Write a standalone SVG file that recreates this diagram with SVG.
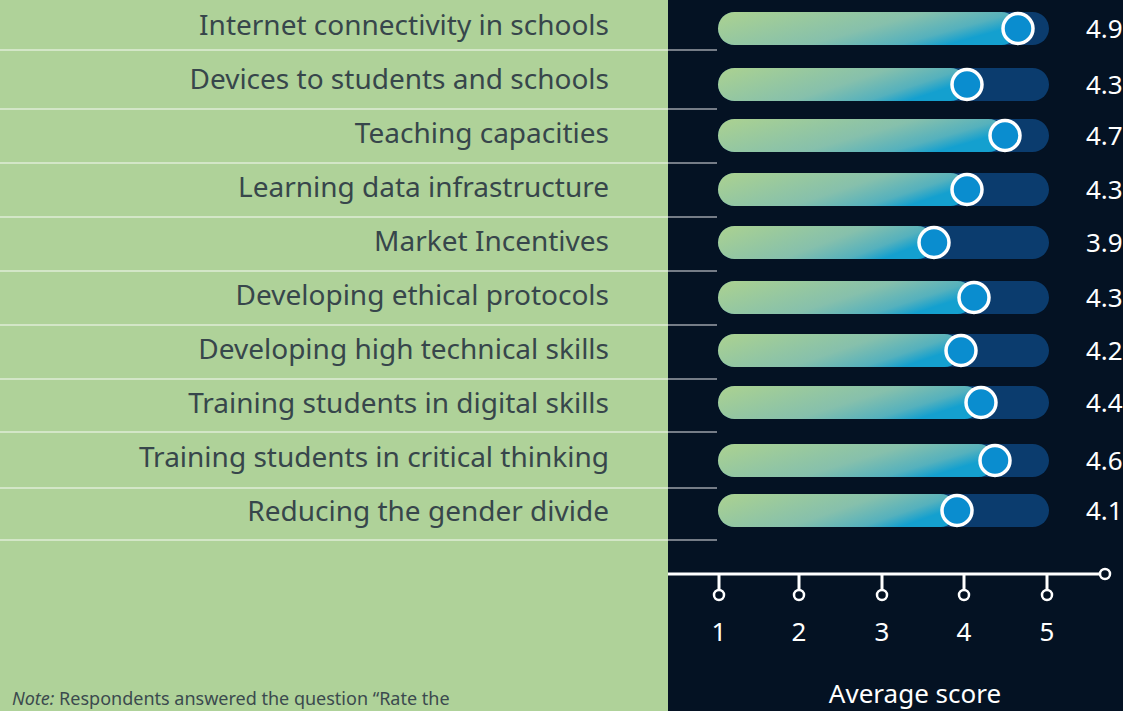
<svg xmlns="http://www.w3.org/2000/svg" width="1123" height="711" viewBox="0 0 1123 711">
<defs>
<linearGradient id="fillGrad" x1="0" y1="0" x2="1" y2="0.4">
<stop offset="0" stop-color="#acd290"/>
<stop offset="0.6" stop-color="#86c0ac"/>
<stop offset="0.86" stop-color="#55b1bd"/>
<stop offset="1" stop-color="#14a0cf"/>
</linearGradient>
<style>
.lbl{font-family:"Noto Sans","Liberation Sans",sans-serif;font-size:28px;fill:#37464b;text-anchor:end}
.val{font-family:"Noto Sans","Liberation Sans",sans-serif;font-size:26px;fill:#ffffff}
.ax{font-family:"Noto Sans","Liberation Sans",sans-serif;font-size:26px;fill:#ffffff;text-anchor:middle}
.sep{stroke:#ffffff;stroke-opacity:0.45;stroke-width:2}
.track{fill:#0b3c6e}
.fill{fill:url(#fillGrad)}
.knob{fill:#0a8dcf;stroke:#ffffff;stroke-width:3.5}
.axl{stroke:#ffffff;stroke-width:3;fill:none}
.tick{stroke:#ffffff;stroke-width:2.5;fill:#041223}
</style>
</defs>
<rect x="0" y="0" width="668" height="711" fill="#afd299"/>
<rect x="668" y="0" width="455" height="711" fill="#041223"/>

<g id="connectors">
<line class="sep" x1="0" y1="50" x2="717" y2="50"/>
<line class="sep" x1="0" y1="109" x2="717" y2="109"/>
<line class="sep" x1="0" y1="163" x2="717" y2="163"/>
<line class="sep" x1="0" y1="217" x2="717" y2="217"/>
<line class="sep" x1="0" y1="271" x2="717" y2="271"/>
<line class="sep" x1="0" y1="325" x2="717" y2="325"/>
<line class="sep" x1="0" y1="379" x2="717" y2="379"/>
<line class="sep" x1="0" y1="432" x2="717" y2="432"/>
<line class="sep" x1="0" y1="488" x2="717" y2="488"/>
<line class="sep" x1="0" y1="540" x2="717" y2="540"/>
</g>

<g id="row1">
<text class="lbl" x="609" y="35">Internet connectivity in schools</text>
<rect class="track" x="718" y="12" width="331" height="33" rx="16.5"/>
<rect class="fill" x="718" y="12" width="300" height="33" rx="16.5"/>
<circle class="knob" cx="1018" cy="28.5" r="15"/>
<text class="val" x="1086" y="38">4.9</text>
</g>
<g id="row2">
<text class="lbl" x="609" y="89">Devices to students and schools</text>
<rect class="track" x="718" y="68" width="331" height="33" rx="16.5"/>
<rect class="fill" x="718" y="68" width="249" height="33" rx="16.5"/>
<circle class="knob" cx="967" cy="84.5" r="15"/>
<text class="val" x="1086" y="94">4.3</text>
</g>
<g id="row3">
<text class="lbl" x="609" y="143">Teaching capacities</text>
<rect class="track" x="718" y="119" width="331" height="33" rx="16.5"/>
<rect class="fill" x="718" y="119" width="287" height="33" rx="16.5"/>
<circle class="knob" cx="1005" cy="135.5" r="15"/>
<text class="val" x="1086" y="145">4.7</text>
</g>
<g id="row4">
<text class="lbl" x="609" y="197">Learning data infrastructure</text>
<rect class="track" x="718" y="173" width="331" height="33" rx="16.5"/>
<rect class="fill" x="718" y="173" width="249" height="33" rx="16.5"/>
<circle class="knob" cx="967" cy="189.5" r="15"/>
<text class="val" x="1086" y="199">4.3</text>
</g>
<g id="row5">
<text class="lbl" x="609" y="251">Market Incentives</text>
<rect class="track" x="718" y="226" width="331" height="33" rx="16.5"/>
<rect class="fill" x="718" y="226" width="216" height="33" rx="16.5"/>
<circle class="knob" cx="934" cy="242.5" r="15"/>
<text class="val" x="1086" y="252">3.9</text>
</g>
<g id="row6">
<text class="lbl" x="609" y="305">Developing ethical protocols</text>
<rect class="track" x="718" y="281" width="331" height="33" rx="16.5"/>
<rect class="fill" x="718" y="281" width="256" height="33" rx="16.5"/>
<circle class="knob" cx="974" cy="297.5" r="15"/>
<text class="val" x="1086" y="307">4.3</text>
</g>
<g id="row7">
<text class="lbl" x="609" y="359">Developing high technical skills</text>
<rect class="track" x="718" y="334" width="331" height="33" rx="16.5"/>
<rect class="fill" x="718" y="334" width="243" height="33" rx="16.5"/>
<circle class="knob" cx="961" cy="350.5" r="15"/>
<text class="val" x="1086" y="360">4.2</text>
</g>
<g id="row8">
<text class="lbl" x="609" y="413">Training students in digital skills</text>
<rect class="track" x="718" y="386" width="331" height="33" rx="16.5"/>
<rect class="fill" x="718" y="386" width="263" height="33" rx="16.5"/>
<circle class="knob" cx="981" cy="402.5" r="15"/>
<text class="val" x="1086" y="412">4.4</text>
</g>
<g id="row9">
<text class="lbl" x="609" y="467">Training students in critical thinking</text>
<rect class="track" x="718" y="444" width="331" height="33" rx="16.5"/>
<rect class="fill" x="718" y="444" width="277" height="33" rx="16.5"/>
<circle class="knob" cx="995" cy="460.5" r="15"/>
<text class="val" x="1086" y="470">4.6</text>
</g>
<g id="row10">
<text class="lbl" x="609" y="521">Reducing the gender divide</text>
<rect class="track" x="718" y="494" width="331" height="33" rx="16.5"/>
<rect class="fill" x="718" y="494" width="239" height="33" rx="16.5"/>
<circle class="knob" cx="957" cy="510.5" r="15"/>
<text class="val" x="1086" y="520">4.1</text>
</g>

<g id="axis">
<line class="axl" x1="668" y1="574" x2="1100" y2="574"/>
<circle class="tick" cx="1105" cy="574" r="5"/>
<line class="axl" x1="719" y1="574" x2="719" y2="590"/>
<circle class="tick" cx="719" cy="595" r="5"/>
<line class="axl" x1="799" y1="574" x2="799" y2="590"/>
<circle class="tick" cx="799" cy="595" r="5"/>
<line class="axl" x1="882" y1="574" x2="882" y2="590"/>
<circle class="tick" cx="882" cy="595" r="5"/>
<line class="axl" x1="964" y1="574" x2="964" y2="590"/>
<circle class="tick" cx="964" cy="595" r="5"/>
<line class="axl" x1="1047" y1="574" x2="1047" y2="590"/>
<circle class="tick" cx="1047" cy="595" r="5"/>
<text class="ax" x="719" y="641">1</text>
<text class="ax" x="799" y="641">2</text>
<text class="ax" x="882" y="641">3</text>
<text class="ax" x="964" y="641">4</text>
<text class="ax" x="1047" y="641">5</text>
<text class="ax" x="915" y="703" font-size="28">Average score</text>
</g>

<text x="12" y="705" font-family="Noto Sans, Liberation Sans, sans-serif" font-size="18" fill="#3b4a4e"><tspan font-style="italic">Note:</tspan> Respondents answered the question “Rate the</text>
</svg>
